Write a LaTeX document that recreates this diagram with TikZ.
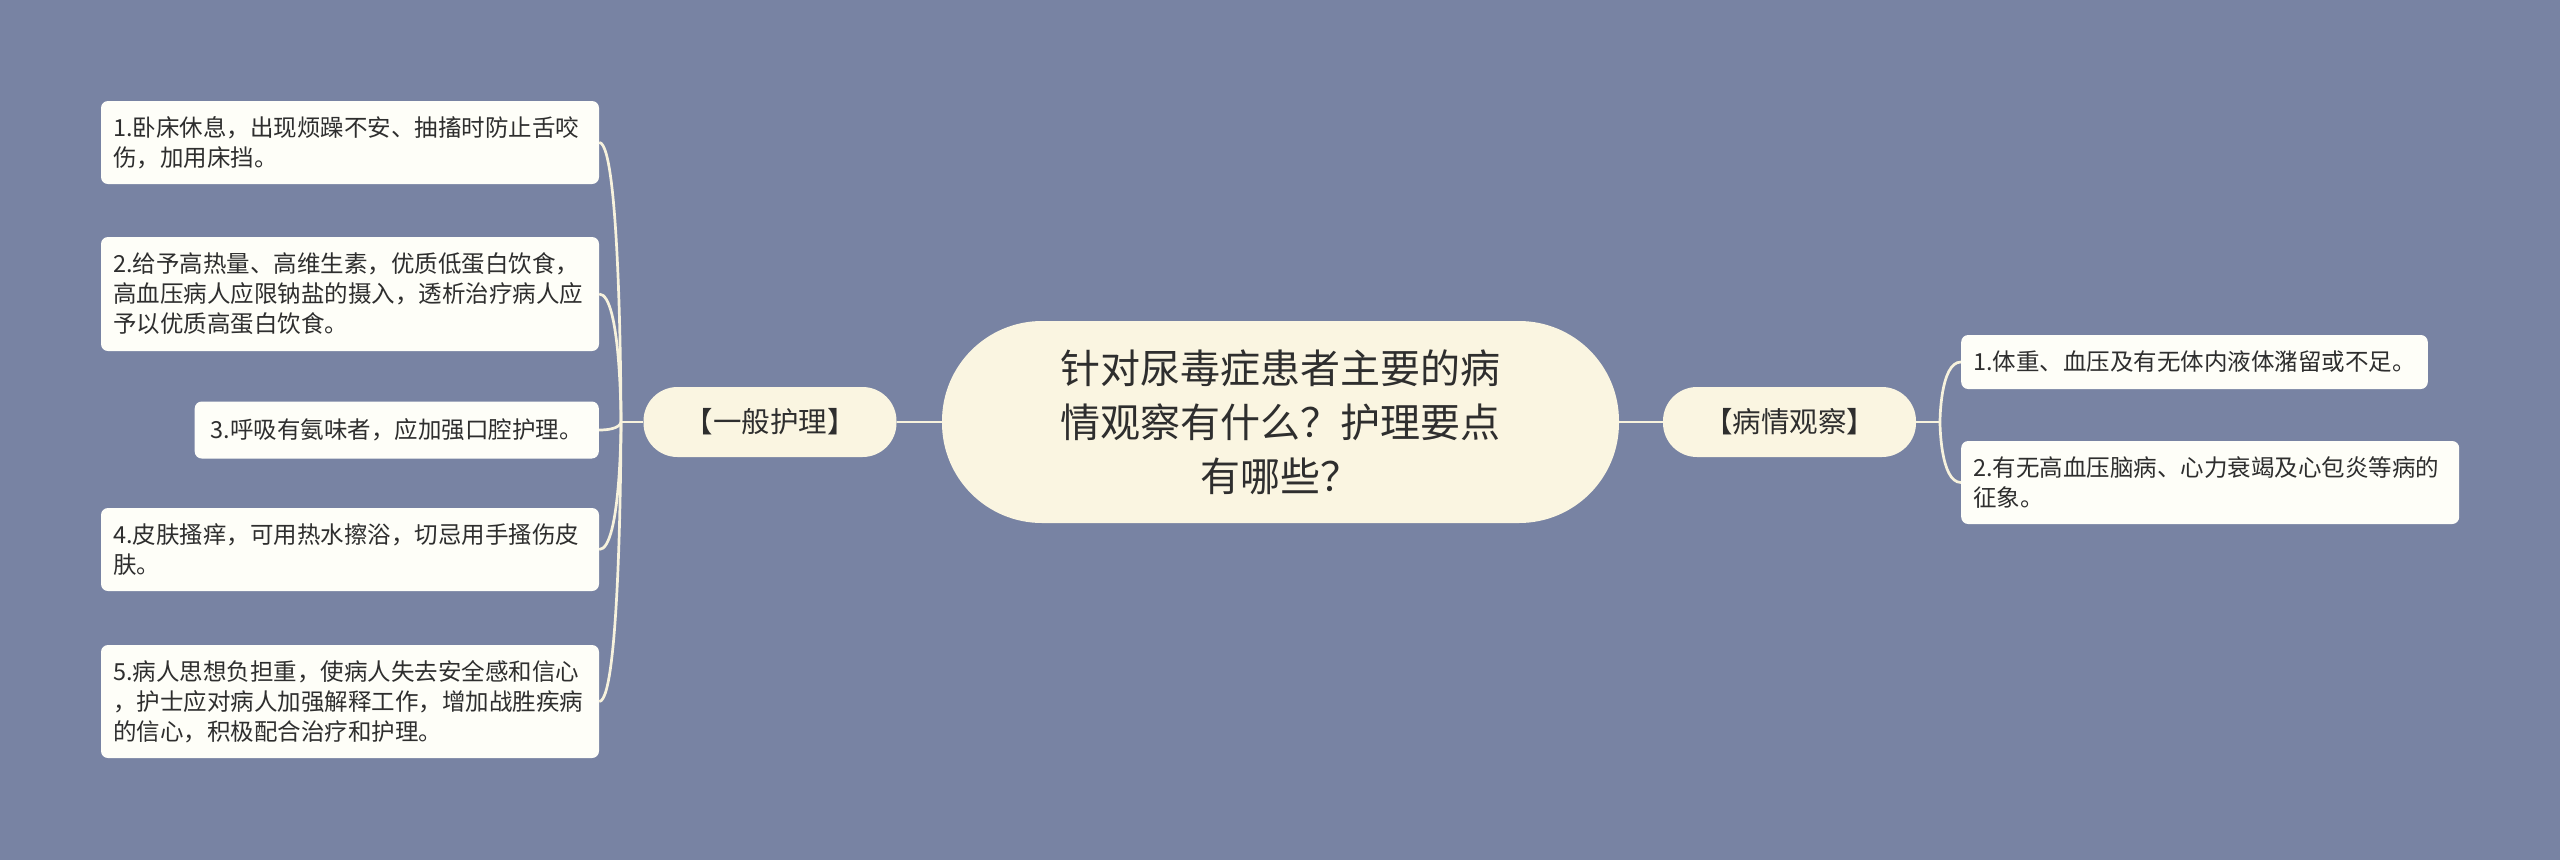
\documentclass[tikz,border=0pt]{standalone}
\usepackage{fontspec}
\newfontfamily\cjk{Noto Sans CJK SC}
\definecolor{bgc}{HTML}{7883A3}
\definecolor{leaffill}{HTML}{FEFEF8}
\definecolor{creamfill}{HTML}{FAF5E1}
\definecolor{linec}{HTML}{F7F2DD}
\definecolor{textc}{HTML}{2E2E2E}
\tikzset{
  leafbox/.style={fill=leaffill, rounded corners=7pt, inner xsep=12pt, inner ysep=6pt,
    font=\cjk\fontsize{23.5}{30}\selectfont, align=left, text=textc},
  multileaf/.style={leafbox, text width=474pt},
  branchbox/.style={fill=creamfill, rounded corners=34pt, minimum width=253pt, minimum height=70pt,
    inner sep=0pt, font=\cjk\fontsize{28.5}{32}\selectfont, text=textc},
  rootbox/.style={fill=creamfill, rounded corners=100pt, minimum width=677pt, minimum height=202pt,
    inner sep=0pt, font=\cjk\fontsize{40}{54}\selectfont, align=center, text=textc},
  conn/.style={draw=linec, line width=2.7pt}
}
\begin{document}
\begin{tikzpicture}[x=1pt,y=-1pt]
\useasboundingbox[fill=bgc] (0,0) rectangle (2560,860);

% nodes
\node[rootbox] (root) at (1280.5,422) {针对尿毒症患者主要的病\\情观察有什么？护理要点\\有哪些？};
\node[branchbox] (gen) at (770,422) {【一般护理】};
\node[branchbox] (obs) at (1789.5,422) {【病情观察】};

\node[multileaf, minimum height=83pt] (l1) at (350,142.5) {1.卧床休息，出现烦躁不安、抽搐时防止舌咬\\伤，加用床挡。};
\node[multileaf, minimum height=114pt] (l2) at (350,294) {2.给予高热量、高维生素，优质低蛋白饮食，\\高血压病人应限钠盐的摄入，透析治疗病人应\\予以优质高蛋白饮食。};
\node[leafbox, minimum height=57pt, anchor=east, inner xsep=16pt] (l3) at (599,430) {3.呼吸有氨味者，应加强口腔护理。};
\node[multileaf, minimum height=83pt] (l4) at (350,549.5) {4.皮肤搔痒，可用热水擦浴，切忌用手搔伤皮\\肤。};
\node[multileaf, minimum height=113pt] (l5) at (350,701.5) {5.病人思想负担重，使病人失去安全感和信心\\，护士应对病人加强解释工作，增加战胜疾病\\的信心，积极配合治疗和护理。};

\node[leafbox, minimum height=54pt, anchor=west] (r1) at (1961,362) {1.体重、血压及有无体内液体潴留或不足。};
\node[multileaf, minimum height=83pt, anchor=west] (r2) at (1961,482.5) {2.有无高血压脑病、心力衰竭及心包炎等病的\\征象。};

% connectors
\coordinate (lt) at (621,422);
\coordinate (rt) at (1940,422);
\draw[conn] (root.west) -- (gen.east);
\draw[conn] (root.east) -- (obs.west);
\draw[conn] (gen.west) -- (lt);
\draw[conn] (obs.east) -- (rt);
\foreach \n in {l1,l2,l3,l4,l5}{
  \draw[conn] (lt) .. controls (lt) and (lt |- \n.east) .. (\n.east);
}
\foreach \n in {r1,r2}{
  \draw[conn] (rt) .. controls (rt) and (rt |- \n.west) .. (\n.west);
}
\end{tikzpicture}
\end{document}
